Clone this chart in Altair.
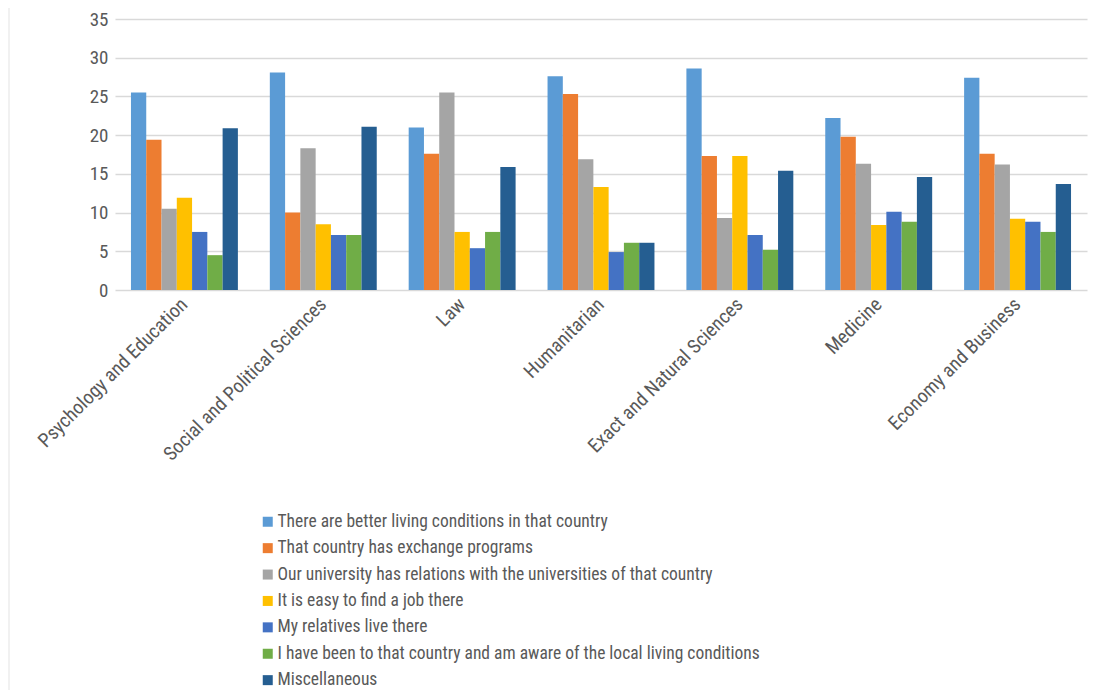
import altair as alt
import pandas as pd

categories = [
    "Psychology and Education",
    "Social and Political Sciences",
    "Law",
    "Humanitarian",
    "Exact and Natural Sciences",
    "Medicine",
    "Economy and Business",
]

series = [
    "There are better living conditions in that country",
    "That country has  exchange programs",
    "Our university has relations with the universities of that country",
    "It is easy to find a job there",
    "My relatives live there",
    "I have been to that country and am aware of the local living conditions",
    "Miscellaneous",
]

better_living = [25.5, 28.1, 21.0, 27.6, 28.6, 22.2, 27.4]
exchange_programs = [19.4, 10.0, 17.6, 25.3, 17.3, 19.8, 17.6]
university_relations = [10.5, 18.3, 25.5, 16.9, 9.3, 16.3, 16.2]
easy_job = [11.9, 8.5, 7.5, 13.3, 17.3, 8.4, 9.2]
relatives = [7.5, 7.1, 5.4, 4.9, 7.1, 10.1, 8.8]
been_there = [4.5, 7.1, 7.5, 6.1, 5.2, 8.8, 7.5]
miscellaneous = [20.9, 21.1, 15.9, 6.1, 15.4, 14.6, 13.7]

colors = ["#5B9BD5", "#ED7D31", "#A5A5A5", "#FFC000", "#4472C4", "#70AD47", "#255E91"]

values = [better_living, exchange_programs, university_relations, easy_job,
          relatives, been_there, miscellaneous]

rows = []
for s, vals in zip(series, values):
    for c, v in zip(categories, vals):
        rows.append({"category": c, "series": s, "value": v})
df = pd.DataFrame(rows)

FONT = "Liberation Sans Narrow, Roboto Condensed, Roboto, sans-serif"

bars = alt.Chart(df).mark_bar().encode(
    x=alt.X("category:N", sort=categories, title=None,
            scale=alt.Scale(paddingInner=0.23, paddingOuter=0.115),
            axis=alt.Axis(labelAngle=-45, labelAlign="right", labelBaseline="middle",
                          labelPadding=11, ticks=False, domain=False, grid=False,
                          labelFontSize=19.5, labelColor="#595959", labelFont=FONT,
                          labelLimit=400)),
    xOffset=alt.XOffset("series:N", sort=series, scale=alt.Scale(paddingInner=0, paddingOuter=0)),
    y=alt.Y("value:Q", title=None,
            scale=alt.Scale(domain=[0, 35], nice=False),
            axis=alt.Axis(values=[0, 5, 10, 15, 20, 25, 30, 35], ticks=False, domain=False,
                          gridColor="#D9D9D9", gridWidth=1.5,
                          labelFontSize=19, labelColor="#595959", labelFont=FONT,
                          labelPadding=7)),
    color=alt.Color("series:N", sort=series,
                    scale=alt.Scale(domain=series, range=colors),
                    legend=alt.Legend(title=None, orient="none", legendX=144, legendY=494,
                                      direction="vertical", symbolType="square",
                                      symbolSize=100, symbolStrokeWidth=0,
                                      labelFontSize=17.5, labelColor="#595959", labelFont=FONT,
                                      labelLimit=800, rowPadding=7.4, labelOffset=1,
                                      padding=0)),
)

border = alt.Chart(pd.DataFrame({"v": [0]})).mark_rule(color="#E3E3E3", strokeWidth=1).encode(
    x=alt.value(-106), y=alt.value(-12), y2=alt.value(700)
)

chart = alt.layer(border, bars).properties(
    width=972, height=271,
    autosize=alt.AutoSizeParams(type="none"),
    padding={"left": 107, "top": 11, "right": 3, "bottom": 400},
).configure(background="white").configure_view(strokeWidth=0, stroke="transparent")

chart.save("out.html", embed_options={"renderer": "svg", "actions": False})
